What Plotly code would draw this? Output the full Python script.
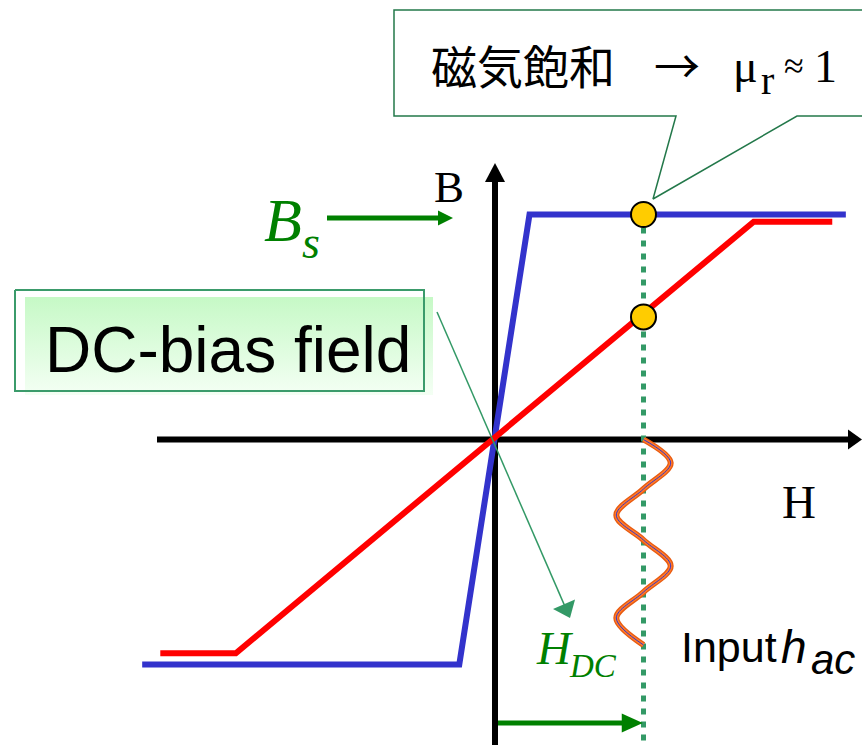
import plotly.graph_objects as go

# ---------------- data (H in units of H_DC, B in units of B_s) ----------------
H_DC = 1.0
B_S = 1.0
# high-permeability core (blue) and DC-biased / low-permeability core (red)
blue_H = [-2.32, -0.22, 0.245, 2.34]
blue_B = [-1.0, -1.0, 1.0, 1.0]
red_H = [-2.2, -1.70, 1.73, 2.25]
red_B = [-0.95, -0.95, 0.968, 0.968]
# operating points
dot_H = [1.0, 1.0]
dot_B = [1.0, 0.545]
wave_H = [1.0, 1.18, 1.0, 0.82, 1.0, 1.18, 1.0, 0.82, 1.0]
wave_B = [0.0, -0.104, -0.22, -0.336, -0.447, -0.562, -0.678, -0.793, -0.913]

# ---------------- pixel <-> data mapping for layout of decorations ----------------
W, Hh = 862, 745
X0, Y0 = 492.5, 439.5
SX, SY = 151.0, 225.0


def hx(px):
    return (px - X0) / SX


def by(py):
    return (Y0 - py) / SY


GREEN = "#008000"
SEA = "#339966"
BOXGREEN = "#3b9b6b"
CALLOUT = "#23784a"
SERIF = "Liberation Serif"
SANS = "Liberation Sans"
CJK = "Noto Sans CJK JP"

traces = []


def line(xs, ys, color, width, dash=None, shape="linear"):
    traces.append(go.Scatter(x=xs, y=ys, mode="lines",
                             line=dict(color=color, width=width, dash=dash, shape=shape),
                             hoverinfo="skip", showlegend=False))


def arrow(x0, y0, x1, y1, hl, hw, color, lw):
    # computed in pixel space, returned in data space
    p0x, p0y = X0 + x0 * SX, Y0 - y0 * SY
    p1x, p1y = X0 + x1 * SX, Y0 - y1 * SY
    dx, dy = p1x - p0x, p1y - p0y
    L = (dx * dx + dy * dy) ** 0.5
    ux, uy = dx / L, dy / L
    nx, ny = -uy, ux
    bx, bye = p1x - ux * hl, p1y - uy * hl
    lx, ly = bx + ux * 1.5, bye + uy * 1.5
    line([hx(p0x), hx(lx)], [by(p0y), by(ly)], color, lw)
    tri_x = [p1x, bx + nx * hw / 2, bx - nx * hw / 2, p1x]
    tri_y = [p1y, bye + ny * hw / 2, bye - ny * hw / 2, p1y]
    traces.append(go.Scatter(x=[hx(v) for v in tri_x], y=[by(v) for v in tri_y],
                             mode="lines", fill="toself", fillcolor=color,
                             line=dict(width=0, color=color),
                             hoverinfo="skip", showlegend=False))


# DC-bias box (gradient fill + border)
fx = [25, 433, 433, 25, 25]
fy = [297, 297, 395, 395, 297]
traces.append(go.Scatter(x=[hx(v) for v in fx], y=[by(v) for v in fy], mode="lines",
                         fill="toself",
                         fillgradient=dict(type="vertical",
                                           colorscale=[[0, "#f4fff4"], [1, "#c6f9c6"]],
                                           start=by(395), stop=by(297)),
                         line=dict(width=0), hoverinfo="skip", showlegend=False))
bx_ = [15, 424, 424, 15, 15]
by_ = [290, 290, 391, 391, 290]
line([hx(v) for v in bx_], [by(v) for v in by_], BOXGREEN, 2)

# axes
arrow(hx(157), 0.0, hx(862), 0.0, 14, 20, "black", 6)
arrow(hx(495), by(752), hx(495), by(163), 19, 20, "black", 6)

# curves
line(blue_H, blue_B, "#3333cc", 6)
line(red_H, red_B, "#ff0000", 6)

# dotted DC line
line([H_DC, H_DC], [B_S, by(752)], SEA, 5, dash="6px,7px")

# input wave
line(wave_H, wave_B, "#e85a10", 6, shape="spline")
line(wave_H, wave_B, "#ff7a2a", 3.5, shape="spline")
line(wave_H, wave_B, "#3333cc", 1, shape="spline")

# callout box
cx = [872, 394, 394, 676, 653, 797, 872]
cy = [10, 10, 116, 116, 199, 116, 116]
traces.append(go.Scatter(x=[hx(v) for v in cx], y=[by(v) for v in cy], mode="lines",
                         fill="toself", fillcolor="white",
                         line=dict(color=CALLOUT, width=1.5),
                         hoverinfo="skip", showlegend=False))

# operating points
traces.append(go.Scatter(x=dot_H, y=dot_B, mode="markers",
                         marker=dict(size=25, color="#ffcc00", line=dict(color="black", width=2)),
                         hoverinfo="skip", showlegend=False))

# arrows
arrow(hx(327), by(218), hx(453), by(218), 15, 15, GREEN, 5)
arrow(hx(498), by(723), H_DC - 0.005, by(723), 21, 19, GREEN, 5)
arrow(hx(437), by(312), hx(570), by(618), 15, 24, SEA, 1.5)

fig = go.Figure(traces)

texts = [
    ("磁気飽和", 523, 63.5, 46, CJK, "black", "center"),
    ("→", 677, 62.5, 46, CJK, "black", "center"),
    ("μ", 745, 66.4, 46, SERIF, "black", "center"),
    ("r", 767, 80, 40, SERIF, "black", "center"),
    ("≈", 794, 66, 36, SERIF, "black", "center"),
    ("1", 825.5, 66.5, 46, SERIF, "black", "center"),
    ("B", 449, 186.8, 45, SERIF, "black", "center"),
    ("<i>B</i>", 283, 219.8, 62, SERIF, GREEN, "center"),
    ("<i>s</i>", 311, 242.5, 46, SERIF, GREEN, "center"),
    ("H", 799, 502, 47, SERIF, "black", "center"),
    ("<i>H</i>", 555, 648, 47, SERIF, GREEN, "center"),
    ("<i>DC</i>", 593, 666, 33, SERIF, GREEN, "center"),
    ("Input", 679, 646.8, 43, SANS, "black", "left"),
    ("<i>h</i>", 779, 646.8, 46, SANS, "black", "left"),
    ("<i>ac</i>", 809, 659.8, 42, SANS, "black", "left"),
    ("DC-bias field", 227.5, 349.5, 64, SANS, "black", "center"),
]
for t, x, y, s, fam, col, xa in texts:
    fig.add_annotation(x=hx(x), y=by(y), xref="x", yref="y", text=t, showarrow=False,
                       xanchor=xa, yanchor="middle",
                       font=dict(size=s, family=fam, color=col))

fig.update_layout(
    width=W, height=Hh, margin=dict(l=0, r=0, t=0, b=0),
    paper_bgcolor="white", plot_bgcolor="white", showlegend=False,
    xaxis=dict(range=[hx(0), hx(W)], visible=False, fixedrange=True),
    yaxis=dict(range=[by(Hh), by(0)], visible=False, fixedrange=True),
    hovermode=False,
)

fig.write_html("out.html", config={"displayModeBar": False},
               post_script="document.body.style.margin='0';document.body.style.overflow='hidden';")
